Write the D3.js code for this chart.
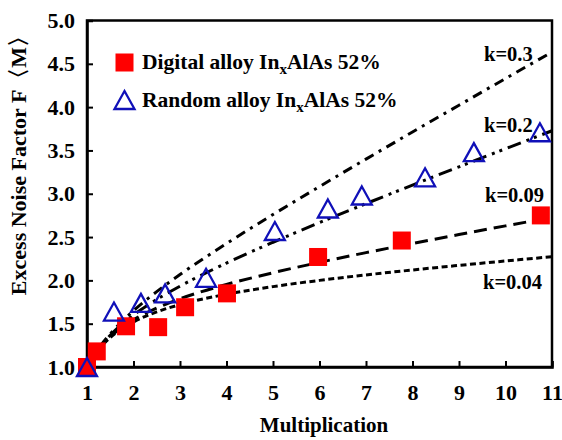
<!DOCTYPE html>
<html><head><meta charset="utf-8">
<script src="https://cdn.jsdelivr.net/npm/d3@7"></script>
<style>
body{margin:0;background:#fff}
text{font-family:"Liberation Serif","Times New Roman","DejaVu Serif",serif;font-weight:bold;fill:#000}
</style>
</head><body>
<svg id="c" width="562" height="440"></svg>
<script>
const xTicks=[1,2,3,4,5,6,7,8,9,10,11];
const yTicks=[1.0,1.5,2.0,2.5,3.0,3.5,4.0,4.5,5.0];
const digitalM=[1,1.21,1.84,2.53,3.11,4.01,5.97,7.77,10.76];
const digitalF=[1.0,1.18,1.47,1.46,1.69,1.85,2.27,2.46,2.75];
const randomM=[1,1.58,2.16,2.68,3.56,5.04,6.18,6.91,8.27,9.32,10.74];
const randomF=[1.0,1.64,1.74,1.85,2.03,2.57,2.83,2.98,3.19,3.48,3.71];
const curveM=[1,1.25,1.5,2,2.5,3,4,5,6,7,8,9,10,11];
const curveK03=[1.0,1.215,1.383,1.65,1.87,2.067,2.425,2.76,3.083,3.4,3.713,4.022,4.33,4.636];
const curveK02=[1.0,1.21,1.367,1.6,1.78,1.933,2.2,2.44,2.667,2.886,3.1,3.311,3.52,3.727];
const curveK009=[1.0,1.205,1.348,1.545,1.681,1.787,1.953,2.088,2.208,2.32,2.426,2.529,2.629,2.727];
const curveK004=[1.0,1.202,1.34,1.52,1.636,1.72,1.84,1.928,2.0,2.063,2.12,2.173,2.224,2.273];
const curveLabels=["k=0.3","k=0.2","k=0.09","k=0.04"];
const legendLabels=["Digital alloy In","Random alloy In"];

const svg=d3.select("#c");
const x=d3.scaleLinear().domain([1,11]).range([87,552]);
const y=d3.scaleLinear().domain([1,5]).range([367,20.5]);
const FF="'Liberation Serif','Times New Roman','DejaVu Serif',serif";

// frame
svg.append("rect").attr("x",x(1)).attr("y",y(5)).attr("width",x(11)-x(1)).attr("height",y(1)-y(5))
  .attr("fill","none").attr("stroke","#000").attr("stroke-width",2.5);

// axes
const xAxis=d3.axisBottom(x).tickValues(xTicks).tickSize(-6).tickPadding(17).tickFormat(d3.format("d"));
const gx=svg.append("g").attr("transform",`translate(0,${y(1)})`).call(xAxis);
const yAxis=d3.axisLeft(y).tickValues(yTicks).tickSize(-6).tickPadding(12).tickFormat(d3.format(".1f"));
const gy=svg.append("g").attr("transform",`translate(${x(1)},0)`).call(yAxis);
[gx,gy].forEach(g=>{
  g.attr("font-family",FF);
  g.select(".domain").attr("stroke","#000").attr("stroke-width",2.5);
  g.selectAll(".tick line").attr("stroke","#000").attr("stroke-width",2);
  g.selectAll(".tick text").style("font-size","22px").style("font-family",FF).style("font-weight","bold").attr("fill","#000");
});

// titles
svg.append("text").attr("x",324).attr("y",432).attr("text-anchor","middle").style("font-size","21px").text("Multiplication");
svg.append("text").attr("transform","translate(26,160) rotate(-90)").attr("text-anchor","middle").style("font-size","22px")
  .text("Excess Noise Factor F\u3008M\u3009");

// curves
const curves=[
  {v:curveK03,dash:"10,6,3,6"},
  {v:curveK02,dash:"14,6,3,5,3,6"},
  {v:curveK009,dash:"13,7"},
  {v:curveK004,dash:"6,3.5"}
];
const line=d3.line().x(d=>x(d[0])).y(d=>y(d[1])).curve(d3.curveMonotoneX);
curves.forEach(c=>{
  svg.append("path").datum(curveM.map((m,i)=>[m,c.v[i]])).attr("d",line)
    .attr("fill","none").attr("stroke","#000").attr("stroke-width",3).attr("stroke-dasharray",c.dash);
});

// curve labels
const labPos=[[484,61],[484,132],[485,202],[483,289]];
curveLabels.forEach((t,i)=>{
  svg.append("text").attr("x",labPos[i][0]).attr("y",labPos[i][1]).style("font-size","20.5px").text(t);
});

// markers
const blue="#1010b8";
const tri=(cx,cy)=>`M${cx},${cy-9}L${cx+10},${cy+9}L${cx-10},${cy+9}Z`;
svg.append("g").selectAll("rect").data(digitalM.map((m,i)=>[m,digitalF[i]])).join("rect")
  .attr("x",d=>x(d[0])-9).attr("y",d=>y(d[1])-9).attr("width",18).attr("height",18).attr("fill","#ff0000");
svg.append("g").selectAll("path").data(randomM.map((m,i)=>[m,randomF[i]])).join("path")
  .attr("d",d=>tri(x(d[0]),y(d[1]))).attr("fill","none").attr("stroke",blue).attr("stroke-width",2.3);

// legend
svg.append("rect").attr("x",115.5).attr("y",53.5).attr("width",18).attr("height",18).attr("fill","#ff0000");
svg.append("path").attr("d",tri(124.5,100)).attr("fill","none").attr("stroke",blue).attr("stroke-width",2.3);
const suffix="AlAs 52%";
legendLabels.forEach((t,i)=>{
  const tx=svg.append("text").attr("x",142).attr("y",i?107:69).style("font-size","21.5px");
  tx.append("tspan").text(t);
  tx.append("tspan").attr("dy",5).style("font-size","15px").text("x");
  tx.append("tspan").attr("dy",-5).text(suffix);
});
</script>
</body></html>
